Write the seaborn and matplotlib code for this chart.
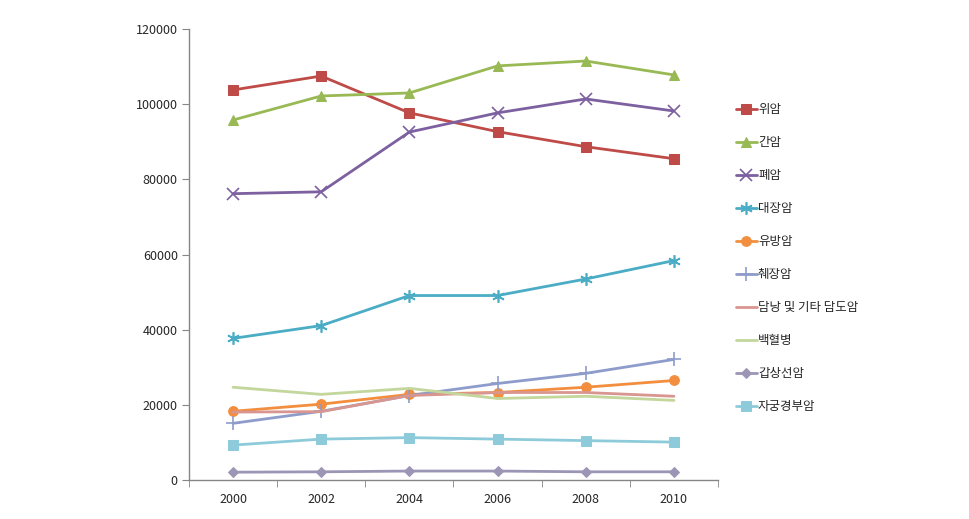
import numpy as np
import pandas as pd
import matplotlib
matplotlib.use("Agg")
import matplotlib.pyplot as plt
import seaborn as sns

# categories and series values
years = ['2000', '2002', '2004', '2006', '2008', '2010']
stomach = [103800, 107500, 97700, 92700, 88700, 85500]      # 위암
liver = [95800, 102200, 103000, 110200, 111500, 107800]      # 간암
lung = [76200, 76700, 92600, 97700, 101400, 98200]           # 폐암
colon = [37700, 41100, 49100, 49100, 53500, 58400]           # 대장암
breast = [18300, 20200, 22800, 23300, 24700, 26500]          # 유방암
pancreas = [15100, 18300, 22500, 25700, 28400, 32100]        # 췌장암
gallbladder = [18100, 18200, 22500, 23300, 23300, 22300]     # 담낭 및 기타 담도암
leukemia = [24700, 22800, 24400, 21700, 22300, 21200]        # 백혈병
thyroid = [2100, 2200, 2400, 2400, 2200, 2200]               # 갑상선암
cervix = [9300, 10900, 11300, 10900, 10500, 10100]           # 자궁경부암

names = ['위암', '간암', '폐암', '대장암', '유방암', '췌장암',
         '담낭 및 기타 담도암', '백혈병', '갑상선암', '자궁경부암']
series = [stomach, liver, lung, colon, breast, pancreas,
          gallbladder, leukemia, thyroid, cervix]
colors = ['#BE4B48', '#98B954', '#7D60A0', '#4AACC5', '#F28E3E',
          '#8E9CCB', '#D9958F', '#C3D69B', '#9D95B5', '#8DCBDA']
markers = ['s', '^', 'x', (6, 2, 0), 'o', '+', None, None, 'D', 's']
msizes = [6.5, 7, 8, 9, 7, 10, 0, 0, 5, 6.5]

sns.set_style('white')
plt.rcParams['font.family'] = ['Noto Sans CJK KR', 'DejaVu Sans']

fig = plt.figure(figsize=(9.69, 5.19), dpi=100)
ax = fig.add_axes([0.195, 0.075, 0.546, 0.869])

for name, vals, c, m, ms in zip(names, series, colors, markers, msizes):
    df = pd.DataFrame({'year': years, 'value': vals})
    kw = dict(marker=m, markersize=ms, markeredgecolor=c) if m is not None else dict()
    if isinstance(m, tuple) or m in ('x', '+'):
        kw['markeredgewidth'] = 1.2
    sns.lineplot(data=df, x='year', y='value', color=c, linewidth=2.0,
                 label=name, ax=ax, sort=False, **kw)

ax.set_xlim(-0.5, len(years) - 0.5)
ax.set_ylim(0, 120000)
ax.set_yticks(np.arange(0, 120001, 20000))
ax.set_yticklabels([str(v) for v in range(0, 120001, 20000)])
ax.set_xticks(range(len(years)))
ax.set_xticks(np.arange(-0.5, len(years), 1.0), minor=True)
ax.set_xlabel('')
ax.set_ylabel('')

for s in ['top', 'right']:
    ax.spines[s].set_visible(False)
for s in ['left', 'bottom']:
    ax.spines[s].set_color('#868686')
    ax.spines[s].set_linewidth(1.0)

ax.tick_params(axis='y', which='major', left=True, length=5, color='#868686',
               labelsize=9, pad=3)
ax.tick_params(axis='x', which='major', bottom=False, labelsize=9, pad=6)
ax.tick_params(axis='x', which='minor', bottom=True, length=5, color='#868686')
ax.grid(False)

ax.legend(loc='upper left', bbox_to_anchor=(1.0, 0.875), frameon=False,
          fontsize=9, handlelength=1.7, handletextpad=0.1, labelspacing=1.6,
          borderaxespad=1.0)

fig.savefig('out.png', dpi=100)
